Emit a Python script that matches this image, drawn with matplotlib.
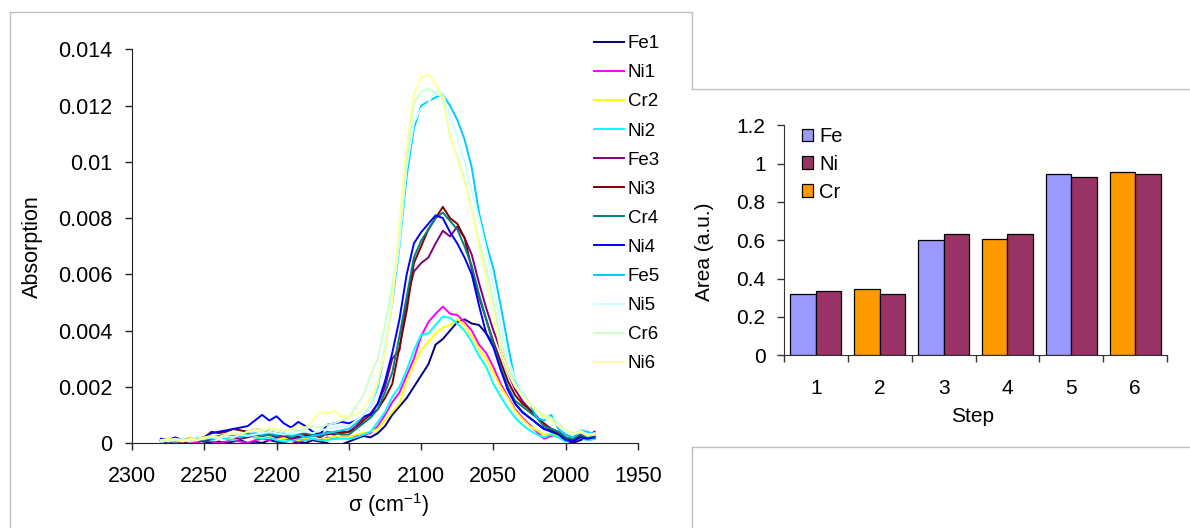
import numpy as np
import matplotlib
matplotlib.use("Agg")
import matplotlib.pyplot as plt
from matplotlib.lines import Line2D
from matplotlib.patches import Patch

plt.rcParams['font.family'] = ['Liberation Sans', 'DejaVu Sans']
plt.rcParams['mathtext.fontset'] = 'custom'
plt.rcParams['mathtext.rm'] = 'Liberation Sans'
plt.rcParams['mathtext.it'] = 'Liberation Sans:italic'

# spectra sampled every 5 cm-1 from 2280 down to 1980
wavenumber = np.arange(2280, 1975, -5)

# absorption values, in units of 1e-4
fe1 = [1, 0, 1, 0.5, 0, 1, 0.5, 0, 0.5, 0, 0.5, 1, 0, 0.5, 0, 1, 0.5, 0, -0.5, 0.5, 0, 1, 0.5, 0, -1, -0.5,
       0.5, 1.5, 2.5, 2, 3.5, 6, 10, 13, 16, 20, 24, 28, 35, 37, 40, 43, 44, 42.5, 42, 39, 35, 27, 19, 14,
       11, 9, 7, 5, 4.5, 3, 1, 0, 1, 2, 2]
ni1 = [0.5, 1, 0, 1, 0.5, 0, 1, 0.5, 0, 0.5, 1, 0.5, 0, 1, 1.5, 1, 2, 1.5, 1, 0.5, 1, 1.5, 1, 2, 1.5, 2,
       2, 2.5, 3, 3.5, 6, 10, 14.5, 18, 24, 30, 38, 43, 46, 48.5, 46, 45.5, 43, 40, 35, 32, 27, 21, 16.5, 12,
       9, 6.5, 4, 1.5, 2.5, 3, 1, 0.5, 2, 1, 1.5]
cr2 = [1, 1.5, 0.5, 1, 2, 1.5, 1, 2, 2.5, 1.5, 2, 3, 2.5, 2, 3, 2.5, 2, 1.5, 2, 1, 1.5, 2.5, 2, 1.5, 2.5, 2,
       2, 3, 3.5, 4, 5, 8, 11, 14, 22, 28, 33, 36, 39, 41, 42, 44, 42, 38, 33.5, 30, 25, 20, 16, 11.5,
       8.5, 6, 4.5, 3, 3.5, 2.5, 1, 1.5, 2.5, 1, 2]
ni2 = [0.5, 1, 0.5, 1.5, 1, 2, 1.5, 1, 2, 1.5, 1, 2, 2.5, 2, 1.5, 2, 1, 0.5, 1, 1.5, 1, 1.5, 1, 1, 1.5, 1.5,
       1.5, 2, 3, 4, 7.5, 11, 16.5, 20, 26, 33, 38.5, 39, 42, 45, 44.5, 42.5, 40, 36, 31, 27, 21, 16.5, 12.5, 9,
       6.5, 4.5, 3, 2, 3, 2, 0.5, 1, 2, 1, 1.5]
fe3 = [1, 0.5, 1, 0, 0.5, 1, 0.5, 1.5, 2, 2.5, 2, 1.5, 2, 3, 2.5, 3, 2, 2.5, 1.5, 2, 2.5, 3, 2, 3.5, 3, 4,
       4, 6, 9, 10.5, 14, 20, 30, 33, 51, 61, 64, 66, 71, 75.5, 73.5, 77, 73, 67, 57, 48, 40, 33, 25, 19,
       15, 12, 9.5, 6, 5, 4, 2, 1, 3, 2.5, 4]
ni3 = [1, 1.5, 1, 0.5, 1, 1.5, 2, 4, 3.5, 4, 5, 4.5, 4, 5, 4.5, 4, 3.5, 3, 2, 2.5, 3, 2.5, 3.5, 3, 4, 3.5,
       4, 5, 8, 10, 12, 16, 21, 34, 47, 64, 70, 76, 80, 84, 80, 78, 73, 62, 52, 44, 36, 29, 22, 17,
       14, 12, 9, 7, 5, 3.5, 1.5, 1, 2.5, 2, 3]
cr4 = [0.5, 1, 0.5, 1, 0.5, 1.5, 1, 2, 2.5, 3, 2.5, 3, 3.5, 3, 2.5, 3, 2.5, 3, 2, 3, 3.5, 3, 2.5, 4, 3.5, 3,
       3, 5, 7, 9, 12, 18, 25, 38, 52, 66, 72, 76, 80, 82, 79, 76, 70, 63, 53, 44, 35, 27, 20, 15,
       13, 11, 9, 6, 5, 4, 2, 1.5, 3, 2, 2.5]
ni4 = [1.5, 1, 2, 1, 1.5, 1, 2, 3.5, 4, 4.5, 5, 5.5, 6, 8, 10, 8, 9.5, 7, 5.5, 7.5, 6, 4, 3, 6.5, 7, 7.5,
       7, 8, 9.5, 10, 14, 22, 32, 44, 60, 71, 75, 78, 81, 80, 75, 71, 66, 60, 49, 39, 34, 26, 19, 14,
       11, 9, 7, 5, 4, 3, 1, 0.5, 2, 1.5, 2]
fe5 = [0.5, 1, 0.5, 1, 1.5, 1, 2, 1.5, 2, 3, 2.5, 2, 3, 3.5, 3, 4, 3, 3.5, 2.5, 3, 2, 2.5, 3, 3.5, 4, 4.5,
       5, 7, 10, 13, 20, 33, 50, 70, 95, 112, 120, 121.5, 123, 124, 120, 115, 108, 98, 82, 71, 62, 49, 35, 22,
       18, 14, 9, 8, 10, 5, 3, 2, 4.5, 4, 3]
ni5 = [0.5, 1, 1.5, 1, 0.5, 1, 1.5, 2, 1.5, 2.5, 2, 3, 2.5, 3, 3.5, 4, 3.5, 3, 3.5, 4.5, 4, 3.5, 4.5, 5, 5.5, 6,
       6, 8, 10, 13, 21, 35, 52, 71, 98, 114, 119, 121, 125.5, 124.5, 116, 109, 100, 90, 80, 69, 56, 42, 30, 23,
       18, 14, 11, 9, 8, 6, 4, 3, 4.5, 3, 3.5]
cr6 = [1, 0.5, 1, 1.5, 1, 2, 1.5, 2.5, 2, 3, 3.5, 3, 4, 4.5, 4, 5, 4.5, 4, 5, 4.5, 5, 6, 5.5, 6.5, 7, 8,
       9, 13, 17, 24, 30, 42, 56, 74, 100, 121, 125, 126, 124.5, 123, 109, 102, 94, 83, 72, 62, 50, 37, 27, 21,
       17, 14, 12, 10, 9, 7, 5, 3.5, 4, 3, 3]
ni6 = [1, 1.5, 1, 0.5, 1.5, 1, 2, 2.5, 2, 3, 3.5, 3, 4, 5, 4.5, 5.5, 5, 4.5, 5, 6, 5.5, 8, 11, 10.5, 11.5, 9.5,
       9.5, 10, 12, 16, 22, 32, 50, 78, 106, 124, 130, 131, 128, 122, 110, 101, 93, 83, 70, 58, 45, 33, 25, 20,
       17, 14, 11.5, 9.5, 8, 6, 5, 3, 4, 2.5, 3]

labels = ['Fe1', 'Ni1', 'Cr2', 'Ni2', 'Fe3', 'Ni3', 'Cr4', 'Ni4', 'Fe5', 'Ni5', 'Cr6', 'Ni6']
spectra = [fe1, ni1, cr2, ni2, fe3, ni3, cr4, ni4, fe5, ni5, cr6, ni6]
line_colors = ['#000080', '#FF00FF', '#FFFF00', '#00FFFF', '#800080', '#800000',
               '#008080', '#0000FF', '#00CCFF', '#CCFFFF', '#CCFFCC', '#FFFF99']

# integrated areas per step
steps = [1, 2, 3, 4, 5, 6]
first_metal = ['Fe', 'Cr', 'Fe', 'Cr', 'Fe', 'Cr']
first_area = [0.32, 0.348, 0.60, 0.607, 0.948, 0.957]
ni_area = [0.337, 0.32, 0.635, 0.635, 0.932, 0.948]
bar_colors = {'Fe': '#9999FF', 'Ni': '#993366', 'Cr': '#FF9900'}

W, H = 1190, 528
fig = plt.figure(figsize=(W / 100, H / 100), dpi=100)


def px(x, y):
    return x / W, 1 - y / H


# chart frames
frame = '#BFBFBF'
for (x0, y0), (x1, y1) in [((10, 12), (692, 12)), ((10, 12), (10, 528)),
                           ((692, 12), (692, 89)), ((692, 447), (692, 528)),
                           ((692, 89), (1190, 89)), ((692, 447), (1190, 447))]:
    a, b = px(x0, y0)
    c, d = px(x1, y1)
    fig.add_artist(Line2D([a, c], [b, d], color=frame, lw=1, transform=fig.transFigure))

# ---- left: spectra
ax = fig.add_axes([132 / W, (H - 443) / H, 506 / W, 393.5 / H])
for lab, vals, col in zip(labels, spectra, line_colors):
    ax.plot(wavenumber, np.array(vals) * 1e-4, color=col, lw=1.4, label=lab)
ax.set_xlim(2300, 1950)
ax.set_ylim(0, 0.014)
ax.set_xticks(np.arange(2300, 1949, -50))
ax.set_yticks(np.arange(0, 0.0141, 0.002))
ax.yaxis.set_major_formatter(plt.FuncFormatter(lambda v, p: '%g' % round(v, 4)))
for s in ['top', 'right']:
    ax.spines[s].set_visible(False)
for s in ['left', 'bottom']:
    ax.spines[s].set_color('#222222')
ax.tick_params(axis='y', direction='out', length=4.8, width=1, color='#222222', labelsize=15.5, pad=9.5)
ax.tick_params(axis='x', direction='out', length=4.8, width=1, color='#222222', labelsize=15.5, pad=12)
ax.set_ylabel('Absorption', fontsize=15.5)
ax.yaxis.set_label_coords((32 - 132) / 506, 0.5)
ax.yaxis.label.set_va('center')
ax.set_xlabel(r'σ (cm$^{-1}$)', fontsize=15.5)
ax.xaxis.set_label_coords((388 - 132) / 506, (443 - 505) / 393.5)
ax.xaxis.label.set_va('center')
ax.legend(loc='upper left', bbox_to_anchor=px(594, 35), bbox_transform=fig.transFigure,
          frameon=False, fontsize=13.5, handlelength=1.6, handletextpad=0.2,
          labelspacing=0.64, borderpad=0, borderaxespad=0)

# ---- right: areas
ax2 = fig.add_axes([784 / W, (H - 355.3) / H, 383 / W, 230 / H])
x = np.array(steps)
ax2.bar(x - 0.2, first_area, 0.4, color=[bar_colors[m] for m in first_metal],
        edgecolor='black', lw=0.9, zorder=2)
ax2.bar(x + 0.2, ni_area, 0.4, color=bar_colors['Ni'], edgecolor='black', lw=0.9, zorder=2)
ax2.set_xlim(0.5, 6.5)
ax2.set_ylim(0, 1.2)
ax2.set_xticks(steps)
ax2.set_xticks(np.arange(0.5, 6.6, 1), minor=True)
ax2.set_yticks(np.arange(0, 1.21, 0.2))
ax2.yaxis.set_major_formatter(plt.FuncFormatter(lambda v, p: '%g' % round(v, 2)))
for s in ['top', 'right']:
    ax2.spines[s].set_visible(False)
for s in ['left', 'bottom']:
    ax2.spines[s].set_color('#333333')
ax2.tick_params(axis='x', which='major', length=0, labelsize=15, pad=17)
ax2.tick_params(axis='x', which='minor', direction='out', length=4.8, width=1, color='#333333')
ax2.tick_params(axis='y', direction='out', length=4.8, width=1, color='#333333', labelsize=15, pad=8.5)
ax2.set_xlabel('Step', fontsize=15)
ax2.xaxis.set_label_coords((973 - 784) / 383, (355.3 - 416.7) / 230)
ax2.xaxis.label.set_va('center')
ax2.set_ylabel('Area (a.u.)', fontsize=15)
ax2.yaxis.set_label_coords((705 - 784) / 383, (355.3 - 252) / 230)
ax2.yaxis.label.set_va('center')
handles = [Patch(facecolor=bar_colors[m], edgecolor='black', lw=0.9) for m in ['Fe', 'Ni', 'Cr']]
ax2.legend(handles, ['Fe', 'Ni', 'Cr'], loc='upper left', bbox_to_anchor=px(801.7, 127),
           bbox_transform=fig.transFigure, frameon=False, fontsize=14.5, handlelength=0.58,
           handleheight=0.58, handletextpad=0.3, labelspacing=0.44, borderpad=0, borderaxespad=0)

fig.savefig('out.png', dpi=100)
